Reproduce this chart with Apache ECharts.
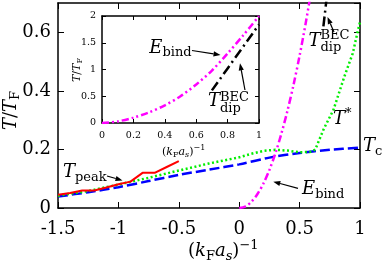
<!DOCTYPE html>
<html><head><meta charset="utf-8">
<script src="https://cdn.jsdelivr.net/npm/echarts@6.0.0/dist/echarts.min.js"></script>
<style>html,body{margin:0;padding:0;background:#fff}#c{width:382px;height:273px}</style>
</head><body><div id="c"></div>
<script>
// ---------- data ----------
const tcX = [-1.5,-1.25,-1,-0.75,-0.5,-0.25,0,0.25,0.5,0.75,1];
const tcY = [0.039,0.054,0.071,0.092,0.113,0.131,0.149,0.172,0.188,0.199,0.206];

const tStarX = [-1.5,-1.25,-1,-0.75,-0.5,-0.25,0,0.1,0.2,0.3,0.4,0.5,0.6,0.63,0.7,0.78,0.87,0.94,0.985,1];
const tStarY = [0.042,0.058,0.08,0.103,0.128,0.152,0.173,0.185,0.195,0.199,0.196,0.19,0.192,0.2,0.27,0.335,0.448,0.528,0.61,0.635];

const tPeakX = [-1.5,-1.4,-1.3,-1.2,-1.1,-1.0,-0.9,-0.8,-0.7,-0.6,-0.5];
const tPeakY = [0.045,0.051,0.06,0.06,0.07,0.081,0.09,0.12,0.12,0.14,0.16];

const eBindX = [0,0.05,0.1,0.15,0.2,0.25,0.3,0.35,0.4,0.45,0.5,0.55,0.6];
const eBindY = [0,0.005,0.021,0.047,0.083,0.13,0.187,0.255,0.333,0.421,0.52,0.63,0.75];

const tDipX = [0.697,0.722];
const tDipY = [0.62,0.71];

const inEbX = [0,0.1,0.2,0.3,0.4,0.5,0.6,0.7,0.8,0.9,1.0];
const inEbY = [0,0.03,0.1,0.2,0.33,0.5,0.72,0.98,1.3,1.64,2.0];

const inTdX = [0.7,0.8,0.9,1.0];
const inTdY = [0.61,1.02,1.43,1.84];

// ---------- helpers ----------
const FONT = '"DejaVu Serif"';
const zip = (a, b) => a.map((v, i) => [v, b[i]]);
const mctx = document.createElement('canvas').getContext('2d');
function fontStr(s, it) { return (it ? 'italic ' : '') + s + 'px ' + FONT; }
function seq(x0, base, parts) {
  const out = []; let x = x0;
  parts.forEach(p => {
    const f = fontStr(p.s, p.it);
    mctx.font = f;
    const w = mctx.measureText(p.t).width;
    const b = base + (p.dy || 0);
    out.push({type:'text', x: x, y: b - 0.3 * p.s, silent:true,
      style:{text:p.t, font:f, fill:'#000', align:'left', verticalAlign:'middle'}});
    if (!p.stack) x += w + (p.gap || 0);
  });
  return out;
}
function arrow(x1, y1, x2, y2) {
  const L = 7, H = 2.6;
  const dx = x2 - x1, dy = y2 - y1, d = Math.hypot(dx, dy);
  const ux = dx / d, uy = dy / d;
  const bx = x2 - ux * L, by = y2 - uy * L;
  return [
    {type:'line', silent:true, shape:{x1:x1, y1:y1, x2:bx, y2:by}, style:{stroke:'#000', lineWidth:1.2}},
    {type:'polygon', silent:true, shape:{points:[[x2,y2],[bx - uy*H, by + ux*H],[bx + uy*H, by - ux*H]]}, style:{fill:'#000'}}
  ];
}

const BIG = 18, SUB = 13;
const graphics = [].concat(
  // main annotations
  seq(63, 178, [{t:'T', s:BIG, it:true}, {t:'peak', s:SUB, dy:4}]),
  arrow(107, 176, 122.5, 180.5),
  seq(302, 195, [{t:'E', s:BIG, it:true}, {t:'bind', s:SUB, dy:3.5}]),
  arrow(298, 188.3, 273.3, 181.7),
  seq(363, 151.7, [{t:'T', s:BIG, it:true}, {t:'c', s:SUB, dy:3.5}]),
  seq(333, 125, [{t:'T', s:BIG, it:true}, {t:'*', s:SUB, dy:-7}]),
  seq(308.5, 46.5, [{t:'T', s:BIG, it:true}, {t:'BEC', s:SUB, dy:-6.5, stack:true}, {t:'dip', s:SUB, dy:5.5}]),
  arrow(334, 32, 327.5, 17),
  // inset annotations
  seq(149.3, 53.3, [{t:'E', s:BIG, it:true}, {t:'bind', s:SUB, dy:3.5}]),
  arrow(192, 50.5, 220.5, 55),
  seq(208, 106.7, [{t:'T', s:BIG, it:true}, {t:'BEC', s:SUB, dy:-5.5, stack:true}, {t:'dip', s:SUB, dy:5.8}]),
  arrow(245, 90, 240, 63.3),
  // main x axis name
  seq(188, 257, [{t:'(', s:BIG}, {t:'k', s:BIG, it:true}, {t:'F', s:SUB, dy:3.5}, {t:'a', s:BIG, it:true},
                 {t:'s', s:SUB, it:true, dy:3.5}, {t:')', s:BIG}, {t:'\u22121', s:SUB, dy:-7.5}]),
  // inset x axis name
  seq(162, 155, [{t:'(', s:11}, {t:'k', s:11, it:true}, {t:'F', s:8, dy:2}, {t:'a', s:11, it:true},
                 {t:'s', s:8, it:true, dy:2}, {t:')', s:11}, {t:'\u22121', s:8, dy:-4.5}]),
  // main y name (rotated)
  [{type:'group', x:16.5, y:130, rotation:Math.PI/2,
    children: seq(0, 0, [{t:'T', s:BIG, it:true}, {t:'/', s:BIG}, {t:'T', s:BIG, it:true}, {t:'F', s:SUB, dy:3.5}])}],
  // inset y name (rotated)
  [{type:'group', x:80, y:82, rotation:Math.PI/2,
    children: seq(0, 0, [{t:'T', s:11, it:true}, {t:'/', s:11}, {t:'T', s:11, it:true}, {t:'F', s:8, dy:2}])}]
);

// ---------- chart ----------
function ax(grid, pos, min, max, iv, show, fs, margin, tl) {
  return {type:'value', gridIndex:grid, position:pos, min:min, max:max, interval:iv,
    axisLine:{onZero:false, lineStyle:{color:'#000', width:1.5}},
    axisTick:{inside:true, length:tl, lineStyle:{color:'#000', width:1}},
    axisLabel:{show:show, color:'#000', fontFamily:FONT, fontSize:fs, margin:margin, showMaxLabel: (max === 0.7 ? false : null)},
    splitLine:{show:false}};
}
const chart = echarts.init(document.getElementById('c'), null, {renderer:'canvas'});
chart.setOption({
  animation:false,
  backgroundColor:'#fff',
  grid:[
    {left:58, top:3, width:302, height:205},
    {left:102, top:16, width:157, height:107, show:true, backgroundColor:'#fff', borderWidth:0}
  ],
  xAxis:[
    ax(0, 'bottom', -1.5, 1, 0.5, true, 18, 12, 6),
    ax(0, 'top', -1.5, 1, 0.5, false, 18, 12, 6),
    ax(1, 'bottom', 0, 1, 0.2, true, 9.5, 8, 4),
    ax(1, 'top', 0, 1, 0.2, false, 9.5, 8, 4)
  ],
  yAxis:[
    ax(0, 'left', 0, 0.7, 0.2, true, 18, 7, 6),
    ax(0, 'right', 0, 0.7, 0.2, false, 18, 7, 6),
    ax(1, 'left', 0, 2, 0.5, true, 9.5, 6, 4),
    ax(1, 'right', 0, 2, 0.5, false, 9.5, 6, 4)
  ],
  series:[
    {type:'line', xAxisIndex:0, yAxisIndex:0, data:zip(tcX, tcY), symbol:'none', smooth:0.3,
     lineStyle:{color:'#0000ff', width:2.5, type:[10,4]}},
    {type:'line', xAxisIndex:0, yAxisIndex:0, data:zip(tStarX, tStarY), symbol:'none',
     lineStyle:{color:'#00ee00', width:2.5, type:[2,2.5]}},
    {type:'line', xAxisIndex:0, yAxisIndex:0, data:zip(tPeakX, tPeakY), symbol:'none',
     lineStyle:{color:'#ff0000', width:2}},
    {type:'line', xAxisIndex:0, yAxisIndex:0, data:zip(eBindX, eBindY), symbol:'none', smooth:0.3,
     lineStyle:{color:'#ff00ff', width:2.5, type:[7,3,2,3,2,3]}},
    {type:'line', xAxisIndex:0, yAxisIndex:0, data:zip(tDipX, tDipY), symbol:'none',
     lineStyle:{color:'#000', width:2.5, type:[10,4,2,4]}},
    {type:'line', xAxisIndex:2, yAxisIndex:2, data:zip(inEbX, inEbY), symbol:'none', smooth:0.3,
     lineStyle:{color:'#ff00ff', width:2.5, type:[7,3,2,3,2,3]}},
    {type:'line', xAxisIndex:2, yAxisIndex:2, data:zip(inTdX, inTdY), symbol:'none',
     lineStyle:{color:'#000', width:2.5, type:[10,4,2,4]}}
  ],
  graphic: graphics
});
</script>
</body></html>
